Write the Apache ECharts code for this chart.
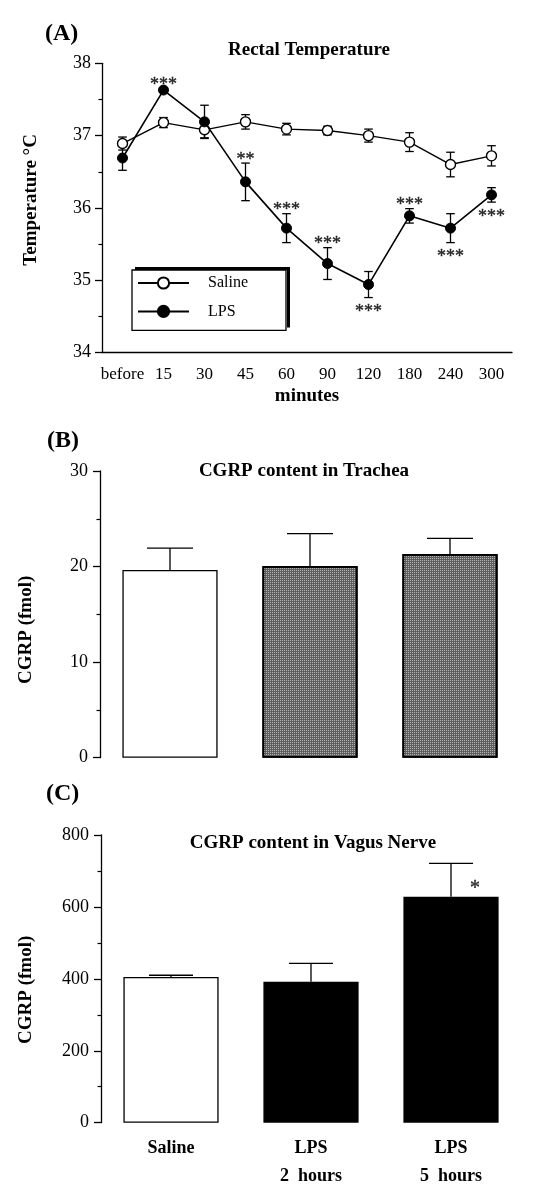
<!DOCTYPE html>
<html>
<head>
<meta charset="utf-8">
<script src="https://cdn.jsdelivr.net/npm/echarts@6/dist/echarts.min.js"></script>
<style>
html,body{margin:0;padding:0;background:#fff;}
#c{width:543px;height:1199px;}
</style>
</head>
<body>
<div id="c"></div>
<script>
// ---- Panel A: rectal temperature ----
const catsA = ['before', '15', '30', '45', '60', '90', '120', '180', '240', '300'];
const salineMean = [36.89, 37.18, 37.08, 37.19, 37.09, 37.07, 37.00, 36.91, 36.60, 36.72];
const salineErr  = [0.09, 0.07, 0.11, 0.10, 0.08, 0.06, 0.09, 0.13, 0.17, 0.14];
const lpsMean    = [36.69, 37.63, 37.19, 36.36, 35.72, 35.23, 34.94, 35.89, 35.72, 36.18];
const lpsErr     = [0.17, 0.03, 0.23, 0.26, 0.20, 0.22, 0.18, 0.10, 0.20, 0.10];
const sigA       = ['', '***', '', '**', '***', '***', '***', '***', '***', '***'];
const sigAAbove  = [true, true, true, true, true, true, false, true, false, false];
const yTicksA    = [34, 35, 36, 37, 38];

// ---- Panels B and C: CGRP content ----
const catsBC     = ['Saline', 'LPS\n2  hours', 'LPS\n5  hours'];
const trachMean  = [19.64, 20.06, 21.31];
const trachErr   = [2.30, 3.38, 1.65];
const vagusMean  = [405, 392, 628];
const vagusErr   = [5, 51, 93];
const sigC       = ['', '', '*'];

const FONT = 'Liberation Serif';
const chart = echarts.init(document.getElementById('c'), null, {renderer: 'canvas'});

function errRender(capHalf, both) {
  return function (params, api) {
    const i = api.value(0), m = api.value(1), e = api.value(2);
    const pTop = api.coord([i, m + e]);
    const pMid = api.coord([i, m]);
    const pBot = both ? api.coord([i, m - e]) : pMid;
    const st = {stroke: '#000', lineWidth: 1.3};
    const children = [
      {type: 'line', shape: {x1: pTop[0], y1: pTop[1], x2: pBot[0], y2: pBot[1]}, style: st},
      {type: 'line', shape: {x1: pTop[0] - capHalf, y1: pTop[1], x2: pTop[0] + capHalf, y2: pTop[1]}, style: st}
    ];
    if (both) children.push({type: 'line', shape: {x1: pBot[0] - capHalf, y1: pBot[1], x2: pBot[0] + capHalf, y2: pBot[1]}, style: st});
    return {type: 'group', children: children};
  };
}

const sigAData = [];
sigA.forEach((s, i) => {
  if (!s) return;
  const above = sigAAbove[i];
  sigAData.push({
    name: s,
    value: [i, above ? lpsMean[i] + lpsErr[i] : lpsMean[i] - lpsErr[i]],
    label: {offset: above ? [0, -3] : [0, 15]}
  });
});
const sigCData = [];
sigC.forEach((s, i) => { if (s) sigCData.push({name: s, value: [i, vagusMean[i]]}); });

const axisLineStyle = {lineStyle: {color: '#000', width: 1.3}};
const tickStyle = {lineStyle: {color: '#000', width: 1.3}};
const labelStyle = {color: '#000', fontFamily: FONT, fontSize: 18};
const nameStyle = {color: '#000', fontFamily: FONT, fontSize: 19, fontWeight: 'bold'};
const stipple = {symbol: 'rect', symbolSize: 1, dashArrayX: [1, 1], dashArrayY: [1, 1], rotation: 0, color: '#b4b4b4'};

const option = {
  animation: false,
  backgroundColor: '#fff',
  textStyle: {fontFamily: FONT, color: '#000'},
  grid: [
    {left: 102, width: 410, top: 63.3, height: 289.2},
    {left: 100, width: 420, top: 471, height: 286.7},
    {left: 101, width: 420, top: 835, height: 287.7}
  ],
  legend: {
    data: ['Saline', 'LPS'],
    orient: 'vertical',
    left: 132, top: 270,
    padding: [5, 5, 11, 5],
    itemWidth: 51, itemHeight: 14, itemGap: 12.4,
    backgroundColor: '#fff',
    borderWidth: 0,
    shadowColor: '#000', shadowBlur: 0, shadowOffsetX: 3, shadowOffsetY: -3,
    textStyle: {fontFamily: FONT, fontSize: 16, color: '#000', lineHeight: 16, padding: [0, 0, 0, 14], width: 74}
  },
  xAxis: [
    {
      gridIndex: 0, type: 'category', data: catsA, boundaryGap: true,
      axisLine: axisLineStyle,
      axisTick: {alignWithLabel: true, length: 6, inside: false, ...tickStyle},
      axisLabel: {...labelStyle, fontSize: 17, margin: 14, interval: 0},
      name: 'minutes', nameLocation: 'middle', nameGap: 34, nameTextStyle: nameStyle
    },
    {
      gridIndex: 0, type: 'category', data: catsA, boundaryGap: true, position: 'bottom',
      axisLine: {show: false},
      axisTick: {alignWithLabel: false, interval: 0, length: 3.5, ...tickStyle},
      axisLabel: {show: false}
    },
    {
      gridIndex: 1, type: 'category', data: catsBC, boundaryGap: true,
      axisLine: {show: false}, axisTick: {show: false}, axisLabel: {show: false}
    },
    {
      gridIndex: 2, type: 'category', data: catsBC, boundaryGap: true,
      axisLine: {show: false}, axisTick: {show: false},
      axisLabel: {color: '#000', fontFamily: FONT, fontSize: 18, fontWeight: 'bold', lineHeight: 28, margin: 12, interval: 0}
    }
  ],
  yAxis: [
    {
      gridIndex: 0, type: 'value', min: yTicksA[0], max: yTicksA[yTicksA.length - 1], interval: 1,
      splitLine: {show: false},
      axisLine: {show: true, ...axisLineStyle},
      axisTick: {show: true, length: 7, ...tickStyle},
      minorTick: {show: true, splitNumber: 2, length: 3.5, lineStyle: {color: '#000', width: 1.2}},
      axisLabel: {...labelStyle, margin: 11},
      name: 'Temperature °C', nameLocation: 'middle', nameGap: 61.5,
      nameTextStyle: {...nameStyle, padding: [0, 0, 0, 16]}
    },
    {
      gridIndex: 1, type: 'value', min: 0, max: 30, interval: 10,
      splitLine: {show: false},
      axisLine: {show: true, ...axisLineStyle},
      axisTick: {show: true, length: 7, ...tickStyle},
      minorTick: {show: true, splitNumber: 2, length: 3.5, lineStyle: {color: '#000', width: 1.2}},
      axisLabel: {...labelStyle, margin: 12},
      name: 'CGRP (fmol)', nameLocation: 'middle', nameGap: 64.5,
      nameTextStyle: {...nameStyle, padding: [0, 31, 0, 0]}
    },
    {
      gridIndex: 2, type: 'value', min: 0, max: 800, interval: 200,
      splitLine: {show: false},
      axisLine: {show: true, ...axisLineStyle},
      axisTick: {show: true, length: 7, ...tickStyle},
      minorTick: {show: true, splitNumber: 2, length: 3.5, lineStyle: {color: '#000', width: 1.2}},
      axisLabel: {...labelStyle, margin: 12},
      name: 'CGRP (fmol)', nameLocation: 'middle', nameGap: 65.5,
      nameTextStyle: {...nameStyle, padding: [0, 22, 0, 0]}
    }
  ],
  graphic: [
    {type: 'text', left: 45, top: 22, style: {text: '(A)', font: 'bold 24px "Liberation Serif"', fill: '#000'}},
    {type: 'text', x: 309, y: 50, style: {text: 'Rectal Temperature', font: 'bold 19px "Liberation Serif"', fill: '#000', textAlign: 'center', textVerticalAlign: 'middle'}},
    {type: 'text', left: 47, top: 429, style: {text: '(B)', font: 'bold 24px "Liberation Serif"', fill: '#000'}},
    {type: 'text', x: 304, y: 471, style: {text: 'CGRP content in Trachea', font: 'bold 19px "Liberation Serif"', fill: '#000', textAlign: 'center', textVerticalAlign: 'middle'}},
    {type: 'text', left: 46, top: 782, style: {text: '(C)', font: 'bold 24px "Liberation Serif"', fill: '#000'}},
    {type: 'text', x: 313, y: 843, style: {text: 'CGRP content in Vagus Nerve', font: 'bold 19px "Liberation Serif"', fill: '#000', textAlign: 'center', textVerticalAlign: 'middle'}},
    {type: 'rect', z: 100, shape: {x: 132, y: 270, width: 154, height: 60.4}, style: {fill: 'none', stroke: '#000', lineWidth: 1.3}}
  ],
  series: [
    {
      type: 'custom', name: 'salineErr', xAxisIndex: 0, yAxisIndex: 0, z: 1,
      renderItem: errRender(4.3, true),
      data: salineMean.map((m, i) => [i, m, salineErr[i]])
    },
    {
      type: 'custom', name: 'lpsErr', xAxisIndex: 0, yAxisIndex: 0, z: 1,
      renderItem: errRender(4.3, true),
      data: lpsMean.map((m, i) => [i, m, lpsErr[i]])
    },
    {
      type: 'line', name: 'Saline', xAxisIndex: 0, yAxisIndex: 0, z: 3,
      data: salineMean,
      symbol: 'circle', symbolSize: 10,
      lineStyle: {color: '#000', width: 1.4},
      itemStyle: {color: '#fff', borderColor: '#000', borderWidth: 1.4}
    },
    {
      type: 'line', name: 'LPS', xAxisIndex: 0, yAxisIndex: 0, z: 4,
      data: lpsMean,
      symbol: 'circle', symbolSize: 10,
      lineStyle: {color: '#000', width: 1.6},
      itemStyle: {color: '#000', borderColor: '#000', borderWidth: 1}
    },
    {
      type: 'scatter', name: 'sigA', xAxisIndex: 0, yAxisIndex: 0, z: 5,
      symbolSize: 1, itemStyle: {color: 'rgba(0,0,0,0)'},
      data: sigAData,
      label: {show: true, position: 'inside', formatter: p => p.name, fontFamily: FONT, fontSize: 18, color: '#000', textBorderColor: '#000', textBorderWidth: 0.4}
    },
    {
      type: 'bar', name: 'Trachea', xAxisIndex: 2, yAxisIndex: 1, barCategoryGap: '32%', z: 2,
      data: trachMean.map((v, i) => ({
        value: v,
        itemStyle: i === 0
          ? {color: '#fff', borderColor: '#000', borderWidth: 1.3}
          : {color: '#5e5e5e', borderColor: '#000', borderWidth: 1.8, decal: stipple}
      }))
    },
    {
      type: 'custom', name: 'trachErr', xAxisIndex: 2, yAxisIndex: 1, z: 1,
      renderItem: errRender(23, false),
      data: trachMean.map((m, i) => [i, m, trachErr[i]])
    },
    {
      type: 'bar', name: 'Vagus', xAxisIndex: 3, yAxisIndex: 2, barCategoryGap: '32%', z: 2,
      data: vagusMean.map((v, i) => ({
        value: v,
        itemStyle: {color: i === 0 ? '#fff' : '#000', borderColor: '#000', borderWidth: 1.3}
      }))
    },
    {
      type: 'custom', name: 'vagusErr', xAxisIndex: 3, yAxisIndex: 2, z: 1,
      renderItem: errRender(22, false),
      data: vagusMean.map((m, i) => [i, m, vagusErr[i]])
    },
    {
      type: 'scatter', name: 'sigC', xAxisIndex: 3, yAxisIndex: 2, z: 5,
      symbolSize: 1, itemStyle: {color: 'rgba(0,0,0,0)'},
      data: sigCData,
      label: {show: true, position: 'inside', offset: [24, -8], formatter: p => p.name, fontFamily: FONT, fontSize: 20, color: '#000', textBorderColor: '#000', textBorderWidth: 0.4}
    }
  ]
};
chart.setOption(option);
</script>
</body>
</html>
